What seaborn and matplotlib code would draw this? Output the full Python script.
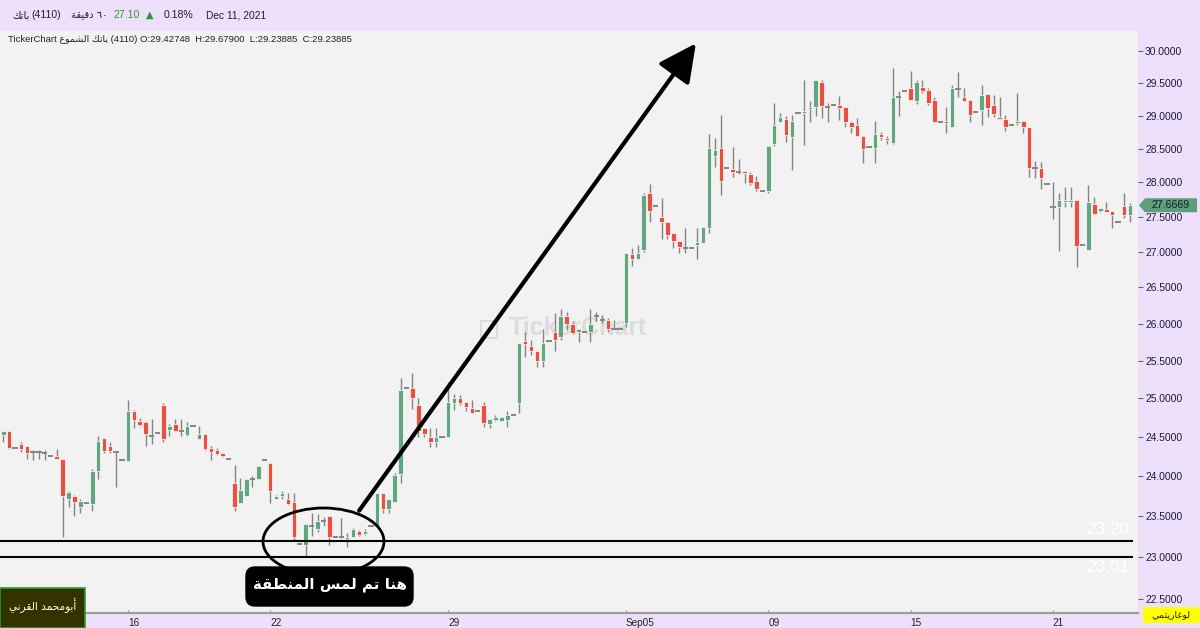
import matplotlib
matplotlib.use("Agg")
import matplotlib.pyplot as plt
import numpy as np
import pandas as pd
import seaborn as sns
from matplotlib.patches import Ellipse, Rectangle, FancyBboxPatch, Polygon
from matplotlib.transforms import IdentityTransform
from matplotlib.ticker import FixedLocator, FuncFormatter, NullLocator

# ---------------- data (hourly candles, 6 per trading day) ----------------
opens = [24.53, 24.58, 24.36,
         24.41, 24.38, 24.31, 24.31, 24.30, 24.26,
         24.26, 24.22, 23.72, 23.75, 23.61, 23.66,
         23.65, 24.06, 24.48, 24.39, 24.31, 24.20,
         24.19, 24.83, 24.70, 24.69, 24.51, 24.55,
         24.92, 24.59, 24.67, 24.58, 24.53, 24.64,
         24.47, 24.54, 24.36, 24.33, 24.30, 24.22,
         23.91, 23.66, 23.75, 23.96, 23.97, 24.20,
         24.17, 23.72, 23.75, 23.72, 23.68, 23.16,
         23.15, 23.38, 23.35, 23.44, 23.51, 23.25,
         23.25, 23.22, 23.25, 23.32, 23.28, 23.38,
         23.38, 23.79, 23.59, 23.68, 24.03, 25.14,
         25.14, 24.92, 24.61, 24.50, 24.44, 24.50,
         24.50, 24.94, 25.01, 24.95, 24.88, 24.83,
         24.92, 24.67, 24.72, 24.70, 24.72, 24.79,
         24.94, 25.77, 25.70, 25.63, 25.49, 25.77,
         25.89, 25.82, 26.11, 25.99, 25.89, 25.89,
         25.89, 26.10, 26.05, 26.05, 25.93, 25.93,
         26.01, 26.97, 26.90, 27.03, 27.84, 27.66,
         27.50, 27.43, 27.26, 27.16, 27.05, 27.05,
         27.10, 27.13, 27.34, 28.39, 28.51, 28.22,
         28.20, 28.16, 28.17, 28.13, 28.02, 27.88,
         27.88, 28.57, 28.91, 28.95, 28.68, 29.04,
         29.04, 29.10, 29.13, 29.52, 29.13, 29.16,
         29.16, 29.13, 28.91, 28.86, 28.69, 28.53,
         28.51, 28.72, 28.66, 28.59, 29.28, 29.38,
         29.42748, 29.22, 29.44, 29.39, 29.24, 28.91,
         28.92, 28.83, 29.41, 29.28, 29.24, 29.06,
         29.09, 29.33, 29.16, 28.98, 28.95, 28.86,
         28.88, 28.92, 28.83, 28.22, 28.22, 27.98,
         27.64, 27.64, 27.71, 27.71, 27.74, 27.10,
         27.03, 27.69, 27.59, 27.61, 27.59, 27.43,
         27.66, 27.53]

highs = [24.58, 24.58, 24.36,
         24.44, 24.39, 24.33, 24.33, 24.33, 24.26,
         24.35, 24.22, 23.82, 23.76, 23.72, 23.66,
         24.09, 24.51, 24.49, 24.44, 24.32, 24.20,
         24.98, 24.85, 24.74, 24.70, 24.73, 24.55,
         24.94, 24.67, 24.73, 24.73, 24.69, 24.64,
         24.64, 24.54, 24.39, 24.36, 24.30, 24.22,
         24.14, 23.98, 23.96, 24.00, 24.13, 24.20,
         24.17, 23.76, 23.81, 23.79, 23.79, 23.16,
         23.41, 23.54, 23.53, 23.49, 23.51, 23.25,
         23.48, 23.29, 23.36, 23.33, 23.34, 23.38,
         23.79, 23.79, 23.72, 24.04, 25.27, 25.14,
         25.34, 25.00, 24.61, 24.61, 24.61, 24.50,
         25.21, 25.06, 25.05, 24.95, 24.98, 24.83,
         24.95, 24.73, 24.79, 24.76, 24.83, 24.79,
         25.74, 25.89, 25.78, 25.63, 25.93, 25.77,
         26.15, 26.20, 26.16, 26.03, 25.93, 25.89,
         26.20, 26.16, 26.12, 26.08, 26.05, 25.93,
         26.98, 27.05, 27.10, 27.84, 27.98, 27.66,
         27.77, 27.43, 27.27, 27.16, 27.34, 27.05,
         27.34, 27.36, 28.72, 28.66, 29.01, 28.22,
         28.53, 28.35, 28.17, 28.16, 28.10, 27.88,
         28.54, 29.19, 29.04, 29.00, 29.01, 29.04,
         29.55, 29.22, 29.55, 29.55, 29.19, 29.16,
         29.30, 29.13, 28.92, 28.97, 28.69, 28.53,
         28.92, 28.75, 28.69, 29.74, 29.38, 29.38,
         29.679, 29.55, 29.55, 29.43, 29.29, 28.91,
         29.13, 29.47, 29.67, 29.43, 29.24, 29.06,
         29.47, 29.33, 29.32, 29.28, 29.01, 28.86,
         29.35, 28.92, 28.83, 28.32, 28.30, 27.98,
         28.00, 27.84, 27.94, 27.94, 27.74, 27.10,
         27.96, 27.79, 27.63, 27.71, 27.59, 27.43,
         27.84, 27.70]

lows = [24.44, 24.35, 24.36,
        24.31, 24.22, 24.20, 24.22, 24.20, 24.26,
        24.22, 23.25, 23.62, 23.50, 23.54, 23.66,
        23.56, 23.97, 24.29, 24.29, 23.87, 24.20,
        24.19, 24.61, 24.64, 24.39, 24.41, 24.55,
        24.44, 24.51, 24.57, 24.51, 24.51, 24.64,
        24.47, 24.33, 24.20, 24.27, 24.24, 24.22,
        23.56, 23.66, 23.75, 23.87, 23.97, 24.20,
        23.66, 23.71, 23.71, 23.64, 23.21, 23.16,
        23.02, 23.26, 23.31, 23.38, 23.15, 23.25,
        23.23, 23.12, 23.25, 23.26, 23.27, 23.38,
        23.38, 23.54, 23.54, 23.68, 23.91, 25.14,
        24.86, 24.50, 24.50, 24.37, 24.37, 24.50,
        24.50, 24.85, 24.92, 24.83, 24.81, 24.83,
        24.63, 24.62, 24.70, 24.70, 24.63, 24.79,
        24.81, 25.55, 25.58, 25.42, 25.42, 25.77,
        25.63, 25.78, 25.92, 25.86, 25.75, 25.89,
        25.75, 26.03, 26.01, 25.89, 25.93, 25.93,
        25.96, 26.80, 26.90, 27.00, 27.43, 27.66,
        27.18, 27.18, 27.05, 26.98, 26.98, 27.05,
        26.90, 27.13, 27.27, 28.23, 27.82, 28.22,
        28.08, 28.13, 27.99, 27.96, 27.88, 27.88,
        27.85, 28.54, 28.90, 28.60, 28.19, 29.04,
        28.56, 28.91, 28.99, 28.97, 28.91, 29.16,
        28.94, 28.82, 28.74, 28.69, 28.29, 28.53,
        28.29, 28.63, 28.57, 28.57, 28.99, 29.38,
        29.23885, 29.18, 29.35, 29.16, 28.91, 28.91,
        28.74, 28.83, 29.28, 29.22, 28.91, 29.06,
        28.86, 28.98, 28.98, 28.95, 28.77, 28.86,
        28.86, 28.74, 28.08, 28.06, 27.91, 27.98,
        27.47, 27.01, 27.64, 27.64, 26.79, 27.10,
        27.03, 27.54, 27.57, 27.57, 27.34, 27.43,
        27.48, 27.43]

closes = [24.57, 24.36, 24.36,
          24.35, 24.29, 24.31, 24.31, 24.30, 24.26,
          24.22, 23.75, 23.80, 23.68, 23.69, 23.66,
          24.07, 24.45, 24.32, 24.32, 24.31, 24.20,
          24.83, 24.72, 24.65, 24.54, 24.51, 24.55,
          24.47, 24.64, 24.57, 24.58, 24.64, 24.64,
          24.54, 24.35, 24.31, 24.28, 24.26, 24.22,
          23.62, 23.83, 23.96, 23.96, 24.13, 24.20,
          23.82, 23.75, 23.79, 23.65, 23.25, 23.16,
          23.41, 23.38, 23.44, 23.44, 23.25, 23.25,
          23.25, 23.25, 23.35, 23.27, 23.32, 23.38,
          23.79, 23.59, 23.72, 24.01, 25.11, 25.14,
          25.01, 24.57, 24.54, 24.44, 24.50, 24.50,
          24.95, 25.01, 24.94, 24.89, 24.81, 24.83,
          24.68, 24.73, 24.76, 24.76, 24.79, 24.79,
          25.74, 25.73, 25.63, 25.49, 25.74, 25.77,
          25.78, 26.11, 25.99, 25.88, 25.93, 25.89,
          26.00, 26.10, 26.05, 25.93, 25.93, 25.93,
          26.98, 26.90, 26.98, 27.82, 27.59, 27.66,
          27.43, 27.24, 27.16, 27.07, 27.05, 27.05,
          27.14, 27.36, 28.51, 28.48, 28.02, 28.22,
          28.16, 28.16, 28.14, 27.99, 27.91, 27.88,
          28.54, 28.86, 28.98, 28.71, 28.92, 29.04,
          29.07, 29.13, 29.55, 29.15, 29.13, 29.16,
          29.12, 28.91, 28.82, 28.69, 28.50, 28.53,
          28.72, 28.68, 28.63, 29.28, 29.28, 29.38,
          29.23885, 29.52, 29.38, 29.19, 28.91, 28.91,
          28.88, 29.43, 29.41, 29.22, 29.01, 29.06,
          29.32, 29.12, 29.03, 28.95, 28.83, 28.86,
          28.92, 28.82, 28.22, 28.22, 28.06, 27.98,
          27.64, 27.74, 27.74, 27.74, 27.08, 27.10,
          27.71, 27.54, 27.63, 27.57, 27.53, 27.43,
          27.53, 27.6669]

tick_candles = [21, 45, 75, 105, 129, 153, 177]
tick_labels = ["16", "22", "29", "Sep05", "09", "15", "21"]
price_ticks = [22.5, 23.0, 23.5, 24.0, 24.5, 25.0, 25.5, 26.0,
               26.5, 27.0, 27.5, 28.0, 28.5, 29.0, 29.5, 30.0]
levels = [23.20, 23.01]
info_candle = 153

# Arabic strings already in presentation forms, visual order
symbol_ar = "ﻚﺗﺎﺑ"                      # باتك
interval_ar = "ﺔﻘﻴﻗﺩ ٦٠"               # ٦٠ دقيقة
candles_ar = "ﻉﻮﻤﺸﻟﺍ"                  # الشموع
note_ar = "ﺔﻘﻄﻨﻤﻟﺍ ﺲﻤﻟ ﻢﺗ ﺎﻨﻫ"         # هنا تم لمس المنطقة
author_ar = "ﻲﻧﺮﻘﻟﺍ ﺪﻤﺤﻣﻮﺑﺃ"           # أبومحمد القرني
log_ar = "ﻲﻤﺘﻳﺭﺎﻏﻮﻟ"                    # لوغاريتمي

# ---------------- style ----------------
sns.set_theme(style="white")
plt.rcParams["font.family"] = ["Liberation Sans", "DejaVu Sans"]

PURPLE = "#EEDFFB"
PLOT_BG = "#F2F2F2"
GREEN = "#62A57F"
RED = "#E8503F"
WICK = "#858585"

W, H = 1200, 628
fig = plt.figure(figsize=(W / 100, H / 100), dpi=100, facecolor=PURPLE)
ax = fig.add_axes([0, 15 / H, 1138 / W, 582 / H])
ax.set_facecolor(PLOT_BG)

df = pd.DataFrame({"o": opens, "h": highs, "l": lows, "c": closes})
df["i"] = np.arange(len(df))
df["doji"] = df["o"] == df["c"]
df["up"] = df["c"] > df["o"]

# wicks
ax.vlines(df["i"], df["l"], df["h"], color=WICK, lw=1.0, zorder=2)
# bodies
body = df[~df["doji"]]
bottoms = np.minimum(body["o"], body["c"])
heights = np.abs(body["c"] - body["o"])
colors = np.where(body["up"], GREEN, RED)
ax.bar(body["i"], heights, bottom=bottoms, width=0.76, color=colors,
       edgecolor="white", linewidth=0.5, zorder=3)
# doji dashes
dj = df[df["doji"]]
ax.hlines(dj["c"], dj["i"] - 0.45, dj["i"] + 0.45, color=WICK, lw=1.4, zorder=3)

ax.set_yscale("log")
ax.set_xlim(-0.556, 191.35)
ax.set_ylim(22.338, 30.316)
ax.yaxis.set_major_locator(FixedLocator(price_ticks))
ax.yaxis.set_minor_locator(NullLocator())
ax.yaxis.set_major_formatter(FuncFormatter(lambda v, p: f"{v:.4f}"))
ax.yaxis.tick_right()
ax.tick_params(axis="y", which="major", direction="out", length=3.6, width=0.8,
               color="#666666", labelsize=7.4, labelcolor="#1b1b3a", pad=1.5,
               right=True, left=False, labelright=True, labelleft=False)
ax.set_xticks(tick_candles, tick_labels)
ax.tick_params(axis="x", direction="in", length=2.5, width=0.8, color="#8a8a8a",
               labelsize=7.2, labelcolor="#222222", pad=3.5, bottom=True)
for lbl in ax.get_xticklabels():
    lbl.set_horizontalalignment("left")
sns.despine(ax=ax, left=True, right=True, top=True, bottom=False)
ax.spines["bottom"].set_color("#9c9c9c")
ax.spines["bottom"].set_linewidth(1.6)
ax.grid(False)

# support levels
ax.hlines(levels, -0.6, 190.5, color="black", lw=1.5, zorder=4)
ax.annotate(f"{levels[0]:.2f}", xy=(190.0, levels[0]), xytext=(0, 2.5),
            textcoords="offset points", ha="right", va="bottom",
            color="white", fontsize=12.5, zorder=5)
ax.annotate(f"{levels[1]:.2f}", xy=(190.0, levels[1]), xytext=(0, -2.5),
            textcoords="offset points", ha="right", va="top",
            color="white", fontsize=12.5, zorder=5)

# watermark
ax.text(0.508, 0.49, "TickerChart", transform=ax.transAxes, ha="center",
        va="center", fontsize=18, fontweight="bold", color="#DCDCDC", zorder=1)
ax.add_patch(Rectangle((0.4225, 0.472), 0.0145, 0.03, transform=ax.transAxes,
                       fill=False, ec="#DCDCDC", lw=1.5, zorder=1))

# ellipse around touch zone
ax.add_patch(Ellipse((323.5 / 1138, (613 - 541.5) / 582), 121 / 1138, 67 / 582,
                     transform=ax.transAxes, fill=False, ec="black", lw=2.0,
                     zorder=6))
# arrow
ax.annotate("", xy=(116.8, 30.12), xytext=(60.0, 23.57),
            arrowprops=dict(arrowstyle="-|>,head_length=1.1,head_width=0.55",
                            mutation_scale=21, lw=3.0, color="black",
                            shrinkA=0, shrinkB=0), zorder=6)

# ---------------- overlays in pixel coordinates ----------------
def fx(x):
    return x / W

def fy(y):
    return 1 - y / H

ident = IdentityTransform()

# annotation box
fig.add_artist(FancyBboxPatch((246, H - 606), 167, 39,
                              boxstyle="round,pad=0,rounding_size=9",
                              fc="black", ec="black", transform=ident, zorder=5))
fig.text(fx(329.5), fy(585), note_ar, ha="center", va="center", color="white",
         fontsize=10.8, fontweight="bold", family=["DejaVu Sans"], zorder=6)

# author box
fig.add_artist(Rectangle((0, 0), 85, 40, fc="#333300", ec="#2E9B2E", lw=1.2,
                         transform=ident, zorder=5))
fig.text(fx(42.5), fy(606), author_ar, ha="center", va="center", color="#FFFFE8",
         fontsize=7.6, family=["DejaVu Sans"], zorder=6)

# log-scale badge
fig.add_artist(Rectangle((1143, H - 623), 57, 16, fc="#FFFF00", ec="none",
                         transform=ident, zorder=5))
fig.text(fx(1171), fy(615), log_ar, ha="center", va="center", color="#222222",
         fontsize=6.8, family=["DejaVu Sans"], zorder=6)

# last price tag
fig.canvas.draw()
ty = ax.transData.transform((0, closes[-1]))[1]
tag = Polygon([(1139, ty), (1145, ty + 7), (1197, ty + 7), (1197, ty - 7),
               (1145, ty - 7)], closed=True, fc="#5E9E7C", ec="none",
              transform=ident, zorder=5)
fig.add_artist(tag)
fig.text(1171 / W, ty / H, f"{closes[-1]:.4f}", ha="center", va="center",
         color="#102018", fontsize=7.6, zorder=6)

# header bar
hy = fy(15)
fig.text(fx(12), hy, symbol_ar, ha="left", va="center", fontsize=7.5,
         color="#222222", family=["DejaVu Sans"])
fig.text(fx(31), hy, "(4110)", ha="left", va="center", fontsize=7.6, color="#222222")
fig.text(fx(71), hy, interval_ar, ha="left", va="center", fontsize=7.2,
         color="#222222", family=["DejaVu Sans"])
fig.text(fx(113), hy, "27.10", ha="left", va="center", fontsize=7.6, color="#2E9A2E")
fig.text(fx(146), hy, "▲", ha="left", va="center", fontsize=7, color="#2E9A2E",
         family=["DejaVu Sans"])
fig.text(fx(164), hy, "0.18%", ha="left", va="center", fontsize=7.6, color="#222222")
fig.text(fx(206), hy, "Dec 11, 2021", ha="left", va="center", fontsize=7.4,
         color="#222222")

# info line
info = (f"TickerChart {candles_ar} {symbol_ar} (4110) "
        f"O:{opens[info_candle]:.5f}  H:{highs[info_candle]:.5f}  "
        f"L:{lows[info_candle]:.5f}  C:{closes[info_candle]:.5f}")
fig.text(fx(8), fy(39), info, ha="left", va="center", fontsize=6.8,
         color="#222222")

fig.savefig("out.png", dpi=100, facecolor=PURPLE)
